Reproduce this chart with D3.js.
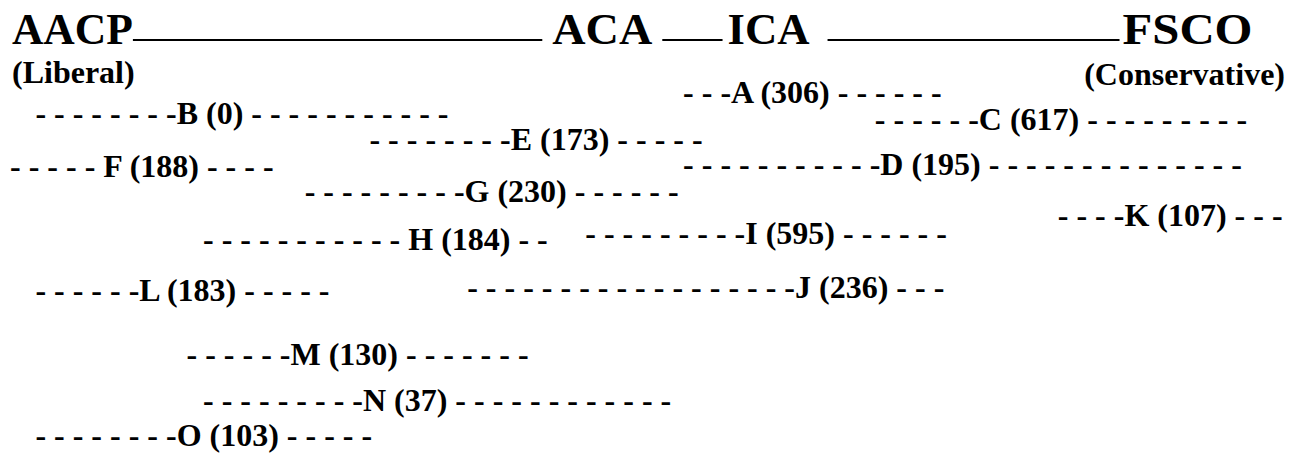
<!DOCTYPE html>
<html>
<head>
<meta charset="utf-8">
<script src="https://cdnjs.cloudflare.com/ajax/libs/d3/7.8.5/d3.min.js"></script>
<style>
  body { margin: 0; background: #fff; }
</style>
</head>
<body>
<script>
// Header: organisations along the liberal -> conservative spectrum
var orgs = ["AACP", "ACA", "ICA", "FSCO"];
var orgPos = [0.15, 42.7, 56.5, 87.6];          // spectrum position (0-100)
var ends = ["(Liberal)", "(Conservative)"];

// Rows: label, count, dashes either side, where the row starts, which line
var labels = ["A", "B", "C", "D", "E", "F", "G", "H", "I", "J", "K", "L", "M", "N", "O"];
var counts = [306, 0, 617, 195, 173, 188, 230, 184, 595, 236, 107, 183, 130, 37, 103];
var leftDashes = [3, 8, 6, 11, 8, 5, 9, 11, 9, 18, 4, 6, 6, 9, 8];
var rightDashes = [6, 11, 9, 14, 5, 4, 6, 2, 6, 3, 3, 5, 7, 12, 5];
var spacedLabels = ["F", "H"];   // these have a blank before the letter
var starts = [53.0, 2.0, 68.1, 53.0, 28.3, 0, 23.2, 15.2, 45.3, 36.0, 82.5, 2.0, 13.9, 15.2, 2.0];
var levels = [0.15, 1.03, 1.3, 3.23, 2.16, 3.33, 4.4, 6.45, 6.2, 8.55, 5.42, 8.65, 11.42, 13.4, 14.9];

var w = 1290;
var h = 453;

var svg = d3.select("body").append("svg")
    .attr("width", w)
    .attr("height", h)
    .attr("font-family", "'Liberation Serif', 'Times New Roman', Times, serif")
    .attr("font-weight", "bold")
    .attr("fill", "#000");

var x = d3.scaleLinear().domain([0, 100]).range([10, 1280]);
var y = d3.scaleLinear().domain([0, 15]).range([100, 448]);

// header words (the original is set a little wide, esp. FSCO)
var headerY = 44;
var headW = [121, 100, 82, 130];
svg.selectAll("text.org")
    .data(orgs)
    .enter()
    .append("text")
    .attr("class", "org")
    .attr("x", function(d, i) { return x(orgPos[i]); })
    .attr("y", headerY)
    .attr("textLength", function(d, i) { return headW[i]; })
    .attr("lengthAdjust", "spacingAndGlyphs")
    .attr("font-size", 44)
    .text(function(d) { return d; });

// connecting rules between header words
var gaps = [[0, 10], [10, 5], [18, 3]];
for (var i = 0; i < orgs.length - 1; i++) {
    svg.append("line")
        .attr("x1", x(orgPos[i]) + headW[i] + gaps[i][0])
        .attr("x2", x(orgPos[i + 1]) - gaps[i][1])
        .attr("y1", headerY - 4)
        .attr("y2", headerY - 4)
        .attr("stroke", "#000")
        .attr("stroke-width", 2);
}

svg.append("text")
    .attr("x", 12)
    .attr("y", 83)
    .attr("font-size", 32)
    .text(ends[0]);

svg.append("text")
    .attr("x", 1285)
    .attr("y", 85)
    .attr("text-anchor", "end")
    .attr("font-size", 32)
    .text(ends[1]);

function dashes(n) {
    return d3.range(n).map(function() { return "-"; }).join(" ");
}

svg.selectAll("text.row")
    .data(labels)
    .enter()
    .append("text")
    .attr("class", "row")
    .attr("x", function(d, i) { return x(starts[i]); })
    .attr("y", function(d, i) { return y(levels[i]); })
    .attr("font-size", 32)
    .text(function(d, i) {
        var sep = spacedLabels.indexOf(d) >= 0 ? " " : "";
        return dashes(leftDashes[i]) + sep + d + " (" + counts[i] + ") " + dashes(rightDashes[i]);
    });
</script>
</body>
</html>
